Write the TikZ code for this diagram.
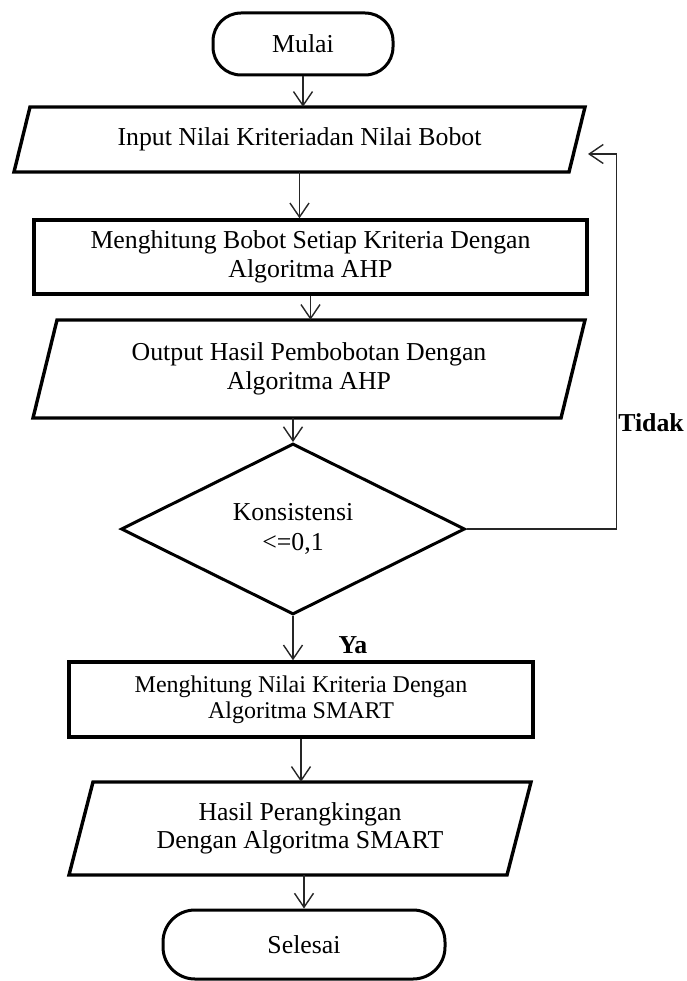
\documentclass[tikz,border=0pt]{standalone}
\usepackage{fontspec}
\setmainfont{Liberation Serif}
\usetikzlibrary{arrows.meta,shapes.geometric,calc}
\begin{document}
\begin{tikzpicture}[x=1pt,y=-1pt,
  txt/.style={align=center,inner sep=0pt,font=\fontsize{25.8}{28.5}\selectfont},
  txtsm/.style={align=center,inner sep=0pt,font=\fontsize{24}{26}\selectfont},
  term/.style={txt,draw,line width=3pt,rounded corners=28pt},
  procbox/.style={draw,line width=3.4pt},
  iobox/.style={line width=3.4pt,line join=miter},
  decbox/.style={txt,draw,diamond,line width=3pt,inner sep=0pt},
  arr/.style={draw=black!85,line width=1.4pt,-{Straight Barb[length=14pt,width=19pt,line width=1.4pt]}},
  lbl/.style={font=\fontsize{25.8}{28}\selectfont\bfseries,inner sep=0pt}]
\useasboundingbox (0,0) rectangle (686,981);

% Start
\node[term,minimum width=180pt,minimum height=62pt] (mulai) at (303,44) {Mulai};

% Input
\draw[iobox] (30,107) -- (585,107) -- (569,172) -- (14,172) -- cycle;
\node[txt,minimum width=540pt,minimum height=65pt] (input) at (299.5,139.5) {Input Nilai Kriteriadan Nilai Bobot};

% Process 1
\node[txt,procbox,minimum width=553pt,minimum height=74pt] (proc1) at (310.5,257) {Menghitung Bobot Setiap Kriteria Dengan\\Algoritma AHP};

% Output
\draw[iobox] (57,320) -- (585,320) -- (561,418) -- (33,418) -- cycle;
\node[txt,minimum width=520pt,minimum height=98pt] (output) at (309,369) {Output Hasil Pembobotan Dengan\\Algoritma AHP};

% Decision
\node[decbox,minimum width=344pt,minimum height=150pt] (dec) at (293,529) {Konsistensi\\[1pt]{<=0,1}};

% Process 2
\node[txtsm,procbox,minimum width=464pt,minimum height=75pt] (proc2) at (301,699.5) {Menghitung Nilai Kriteria Dengan\\Algoritma SMART};

% Output 2
\draw[iobox] (93,782) -- (531,782) -- (507,875) -- (69,875) -- cycle;
\node[txt,minimum width=430pt,minimum height=93pt] (hasil) at (300,828.5) {Hasil Perangkingan\\Dengan Algoritma SMART};

% End
\node[term,rounded corners=32pt,minimum width=282pt,minimum height=69pt] (selesai) at (304,944.5) {Selesai};

% Connectors
\draw[arr] (mulai.south) -- (mulai.south |- input.north);
\draw[arr] (input.south) -- (input.south |- proc1.north);
\draw[arr] (proc1.south) -- (proc1.south |- output.north);
\draw[arr] (output.south -| dec.north) -- (dec.north);
\draw[arr] (dec.south) -- (dec.south |- proc2.north);
\draw[arr] (proc2.south) -- (proc2.south |- hasil.north);
\draw[arr] (hasil.south -| selesai.north) -- (selesai.north);

\coordinate (fb) at (588,154);
\draw[arr] (dec.east) -- ($(dec.east)+(150,0)$) |- (fb);

% Labels
\node[lbl] (tidak) at (651,423) {Tidak};
\node[lbl] (ya) at (353,645) {Ya};
\end{tikzpicture}
\end{document}
